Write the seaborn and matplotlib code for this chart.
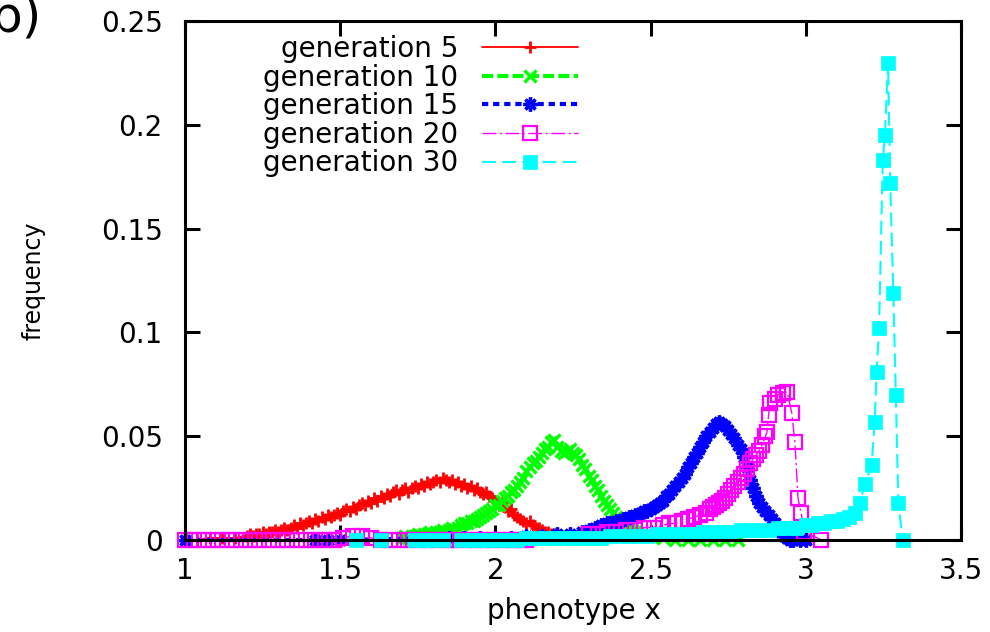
import matplotlib
matplotlib.use("Agg")
import matplotlib.pyplot as plt
import seaborn as sns

# ---------------- data ----------------
series_labels = ["generation 5", "generation 10", "generation 15", "generation 20", "generation 30"]

gen5_x = [1.00, 1.04, 1.08, 1.12, 1.16,
          1.20, 1.21, 1.22, 1.23, 1.24, 1.25, 1.26, 1.27, 1.28, 1.29,
          1.30, 1.31, 1.32, 1.33, 1.34, 1.35, 1.36, 1.37, 1.38, 1.39,
          1.40, 1.41, 1.42, 1.43, 1.44, 1.45, 1.46, 1.47, 1.48, 1.49,
          1.50, 1.51, 1.52, 1.53, 1.54, 1.55, 1.56, 1.57, 1.58, 1.59,
          1.60, 1.61, 1.62, 1.63, 1.64, 1.65, 1.66, 1.67, 1.68, 1.69,
          1.70, 1.71, 1.72, 1.73, 1.74, 1.75, 1.76, 1.77, 1.78, 1.79,
          1.80, 1.81, 1.82, 1.83, 1.84, 1.85, 1.86, 1.87, 1.88, 1.89,
          1.90, 1.91, 1.92, 1.93, 1.94, 1.95, 1.96, 1.97, 1.98, 1.99,
          2.00, 2.01, 2.02, 2.03, 2.04, 2.05, 2.06, 2.07, 2.08, 2.09,
          2.10, 2.11, 2.12, 2.13, 2.14, 2.15, 2.16, 2.17, 2.18, 2.19,
          2.20, 2.21, 2.22, 2.23, 2.24]
gen5_y = [0.000, 0.000, 0.001, 0.001, 0.001,
          0.002, 0.003, 0.002, 0.003, 0.003, 0.004, 0.003, 0.004, 0.004, 0.005,
          0.004, 0.005, 0.006, 0.005, 0.006, 0.007, 0.006, 0.008, 0.007, 0.008,
          0.009, 0.008, 0.010, 0.009, 0.011, 0.010, 0.012, 0.011, 0.012, 0.013,
          0.012, 0.014, 0.015, 0.014, 0.016, 0.015, 0.017, 0.018, 0.017, 0.019,
          0.018, 0.020, 0.019, 0.021, 0.020, 0.022, 0.021, 0.023, 0.024, 0.022,
          0.024, 0.025, 0.023, 0.025, 0.026, 0.025, 0.027, 0.026, 0.028, 0.027,
          0.028, 0.029, 0.028, 0.030, 0.029, 0.028, 0.029, 0.027, 0.028, 0.026,
          0.027, 0.025, 0.026, 0.024, 0.025, 0.023, 0.022, 0.023, 0.021, 0.020,
          0.019, 0.017, 0.018, 0.016, 0.014, 0.015, 0.012, 0.011, 0.010, 0.009,
          0.008, 0.009, 0.007, 0.006, 0.006, 0.005, 0.004, 0.004, 0.003, 0.003,
          0.002, 0.002, 0.001, 0.001, 0.001]

gen10_x = [1.70, 1.71, 1.72, 1.73, 1.74, 1.75, 1.76, 1.77, 1.78, 1.79,
           1.80, 1.81, 1.82, 1.83, 1.84, 1.85, 1.86, 1.87, 1.88, 1.89,
           1.90, 1.91, 1.92, 1.93, 1.94, 1.95, 1.96, 1.97, 1.98, 1.99,
           2.00, 2.01, 2.02, 2.03, 2.04, 2.05, 2.06, 2.07, 2.08, 2.09,
           2.10, 2.11, 2.12, 2.13, 2.14, 2.15, 2.16, 2.17, 2.18, 2.19,
           2.20, 2.21, 2.22, 2.23, 2.24, 2.25, 2.26, 2.27, 2.28, 2.29,
           2.30, 2.31, 2.32, 2.33, 2.34, 2.35, 2.36, 2.37, 2.38, 2.39,
           2.40, 2.41, 2.42, 2.43, 2.44, 2.45, 2.46, 2.50, 2.54, 2.58,
           2.62, 2.66, 2.70, 2.74, 2.78]
gen10_y = [0.001, 0.002, 0.001, 0.002, 0.002, 0.003, 0.002, 0.003, 0.003, 0.004,
           0.003, 0.004, 0.004, 0.005, 0.004, 0.005, 0.006, 0.005, 0.006, 0.007,
           0.008, 0.008, 0.009, 0.009, 0.010, 0.011, 0.012, 0.013, 0.014, 0.015,
           0.017, 0.017, 0.019, 0.020, 0.021, 0.023, 0.024, 0.026, 0.028, 0.030,
           0.033, 0.035, 0.037, 0.038, 0.040, 0.042, 0.044, 0.045, 0.047, 0.048,
           0.045, 0.043, 0.042, 0.043, 0.044, 0.042, 0.041, 0.039, 0.036, 0.034,
           0.031, 0.029, 0.026, 0.024, 0.021, 0.019, 0.017, 0.015, 0.013, 0.011,
           0.010, 0.008, 0.007, 0.006, 0.005, 0.004, 0.003, 0.002, 0.001, 0.000,
           0.000, 0.000, 0.000, 0.000, 0.000]

gen15_x = [1.00, 1.42, 1.46, 1.50, 1.85, 1.90, 1.95, 2.00, 2.05, 2.10, 2.15, 2.20, 2.24, 2.28,
           2.30, 2.31, 2.32, 2.33, 2.34, 2.35, 2.36, 2.37, 2.38, 2.39,
           2.40, 2.41, 2.42, 2.43, 2.44, 2.45, 2.46, 2.47, 2.48, 2.49,
           2.50, 2.51, 2.52, 2.53, 2.54, 2.55, 2.56, 2.57, 2.58, 2.59,
           2.60, 2.61, 2.62, 2.63, 2.64, 2.65, 2.66, 2.67, 2.68, 2.69,
           2.70, 2.71, 2.72, 2.73, 2.74, 2.75, 2.76, 2.77, 2.78, 2.79,
           2.80, 2.81, 2.82, 2.83, 2.84, 2.85, 2.86, 2.87, 2.88, 2.89,
           2.90, 2.91, 2.92, 2.93, 2.94, 2.95, 2.96, 2.98, 3.00]
gen15_y = [0.000, 0.000, 0.000, 0.000, 0.001, 0.001, 0.001, 0.001, 0.001, 0.002, 0.002, 0.003, 0.003, 0.004,
           0.005, 0.005, 0.006, 0.006, 0.007, 0.007, 0.008, 0.008, 0.008, 0.009,
           0.009, 0.010, 0.010, 0.011, 0.011, 0.012, 0.012, 0.013, 0.014, 0.014,
           0.015, 0.016, 0.017, 0.018, 0.019, 0.021, 0.022, 0.024, 0.026, 0.028,
           0.030, 0.032, 0.035, 0.037, 0.040, 0.042, 0.045, 0.047, 0.050, 0.052,
           0.054, 0.056, 0.057, 0.056, 0.055, 0.053, 0.051, 0.049, 0.046, 0.044,
           0.040, 0.035, 0.029, 0.025, 0.021, 0.018, 0.016, 0.014, 0.012, 0.010,
           0.008, 0.006, 0.004, 0.002, 0.001, 0.000, 0.000, 0.000, 0.000]

gen20_x = [1.00, 1.03, 1.06, 1.09, 1.12, 1.15, 1.18, 1.21, 1.24, 1.27, 1.30, 1.33, 1.36, 1.39, 1.42,
           1.45, 1.48, 1.51, 1.54, 1.57, 1.60, 1.63, 1.66, 1.69, 1.72, 1.75, 1.78, 1.81, 1.84, 1.87,
           1.90, 1.93, 1.96, 1.99, 2.02, 2.05, 2.08, 2.10,
           2.30, 2.33, 2.36, 2.39, 2.42, 2.45, 2.48, 2.51, 2.54, 2.56, 2.58, 2.60, 2.62, 2.64, 2.66,
           2.68, 2.69, 2.70, 2.71, 2.72, 2.73, 2.74, 2.75, 2.76, 2.77, 2.78, 2.79, 2.80, 2.81, 2.82,
           2.83, 2.84, 2.85, 2.86, 2.87, 2.875, 2.88, 2.885, 2.90, 2.91, 2.925, 2.94, 2.955, 2.965,
           2.975, 2.985, 2.995, 3.05]
gen20_y = [0.000, 0.000, 0.000, 0.000, 0.000, 0.000, 0.000, 0.000, 0.000, 0.000, 0.000, 0.000, 0.000, 0.000, 0.000,
           0.000, 0.000, 0.001, 0.002, 0.002, 0.001, 0.000, 0.000, 0.000, 0.000, 0.000, 0.000, 0.000, 0.000, 0.000,
           0.000, 0.000, 0.000, 0.000, 0.000, 0.000, 0.000, 0.000,
           0.003, 0.003, 0.004, 0.004, 0.005, 0.005, 0.006, 0.006, 0.007, 0.008, 0.008, 0.009, 0.010, 0.011, 0.012,
           0.013, 0.015, 0.016, 0.017, 0.018, 0.019, 0.020, 0.022, 0.024, 0.026, 0.028, 0.030, 0.032, 0.034, 0.037,
           0.039, 0.041, 0.043, 0.046, 0.050, 0.052, 0.060, 0.066, 0.068, 0.070, 0.071, 0.0713, 0.061, 0.047,
           0.020, 0.013, 0.004, 0.000]

gen30_x = [1.55, 1.63, 1.74, 1.77, 1.80, 1.83, 1.89, 1.92, 1.95, 1.98, 2.01, 2.04, 2.07, 2.10, 2.13,
           2.16, 2.19, 2.22, 2.25, 2.28, 2.31, 2.34, 2.37, 2.40, 2.43, 2.46, 2.49, 2.52, 2.55, 2.58,
           2.61, 2.64, 2.67, 2.70, 2.73, 2.76, 2.79, 2.82, 2.85, 2.88, 2.91, 2.94, 2.97, 3.00, 3.02,
           3.04, 3.06, 3.08, 3.10, 3.12, 3.14, 3.16, 3.175, 3.19, 3.212, 3.222, 3.228, 3.236, 3.248,
           3.255, 3.265, 3.272, 3.282, 3.290, 3.298, 3.312]
gen30_y = [0.000, 0.000, 0.000, 0.000, 0.000, 0.000, 0.000, 0.000, 0.000, 0.000, 0.000, 0.000, 0.000, 0.001, 0.001,
           0.001, 0.001, 0.001, 0.001, 0.001, 0.001, 0.001, 0.002, 0.002, 0.002, 0.002, 0.002, 0.003, 0.003, 0.003,
           0.003, 0.003, 0.004, 0.004, 0.004, 0.004, 0.005, 0.005, 0.005, 0.005, 0.006, 0.006, 0.006, 0.007, 0.007,
           0.008, 0.008, 0.009, 0.009, 0.010, 0.011, 0.013, 0.018, 0.027, 0.036, 0.057, 0.081, 0.102, 0.183,
           0.195, 0.230, 0.172, 0.119, 0.070, 0.018, 0.000]

x_ticks = [1, 1.5, 2, 2.5, 3, 3.5]
x_tick_labels = ["1", "1.5", "2", "2.5", "3", "3.5"]
y_ticks = [0, 0.05, 0.1, 0.15, 0.2, 0.25]
y_tick_labels = ["0", "0.05", "0.1", "0.15", "0.2", "0.25"]

# ---------------- styling ----------------
sns.set_theme(style="white")
plt.rcParams['font.family'] = ['DejaVu Sans']
plt.rcParams['lines.scale_dashes'] = False
plt.rcParams['text.color'] = 'black'
plt.rcParams['axes.labelcolor'] = 'black'
plt.rcParams['xtick.color'] = 'black'
plt.rcParams['ytick.color'] = 'black'

fig = plt.figure(figsize=(9.9, 6.32), dpi=100)
ax = fig.add_axes([185 / 990, 1 - 540 / 632, (961 - 185) / 990, (540 - 21) / 632])

styles = [
    dict(color="#ff0000", marker="+", markersize=9, markeredgewidth=2.0, markeredgecolor="#ff0000",
         linewidth=1.3, linestyle="-"),
    dict(color="#00ff00", marker="x", markersize=8, markeredgewidth=2.4, markeredgecolor="#00ff00",
         linewidth=3.0, linestyle=(0, (8, 3))),
    dict(color="#0000ff", marker=(8, 2, 0), markersize=10, markeredgewidth=2.4, markeredgecolor="#0000ff",
         linewidth=3.0, linestyle=(0, (4.5, 3.5))),
    dict(color="#ff00ff", marker="s", markersize=9.5, markeredgewidth=1.6, markeredgecolor="#ff00ff",
         markerfacecolor="none", linewidth=1.0, linestyle=(0, (10, 2.5, 1.5, 2.5))),
    dict(color="#00ffff", marker="s", markersize=9.5, markeredgewidth=0.5, markeredgecolor="#00ffff",
         markerfacecolor="#00ffff", linewidth=1.5, linestyle=(0, (10, 4.5))),
]

all_x = [gen5_x, gen10_x, gen15_x, gen20_x, gen30_x]
all_y = [gen5_y, gen10_y, gen15_y, gen20_y, gen30_y]

handles = []
for xs, ys, lab, st in zip(all_x, all_y, series_labels, styles):
    sns.lineplot(x=xs, y=ys, ax=ax, label=lab, clip_on=False, sort=False, **st)
    handles.append(ax.get_lines()[-1])

ax.set_xlim(1, 3.5)
ax.set_ylim(0, 0.25)
ax.set_xticks(x_ticks)
ax.set_xticklabels(x_tick_labels)
ax.set_yticks(y_ticks)
ax.set_yticklabels(y_tick_labels)

for s in ax.spines.values():
    s.set_linewidth(2.2)
    s.set_color("black")
    s.set_visible(True)

ax.tick_params(axis="both", which="major", direction="in", length=11, width=2.2, color="black",
               bottom=True, top=True, left=True, right=True, labelsize=20, labelcolor="black")
ax.tick_params(axis="x", pad=12)
ax.tick_params(axis="y", pad=16)

ax.set_xlabel("phenotype x", fontsize=20, color="black")
ax.set_ylabel("frequency", fontsize=17, color="black")
ax.xaxis.set_label_coords(0.501, -0.110)
ax.yaxis.set_label_coords(-0.180, 0.5)

leg = ax.legend(handles=handles, labels=series_labels, loc="upper right",
                bbox_to_anchor=(0.5064, 0.973), borderaxespad=0, borderpad=0,
                frameon=False, markerfirst=False, numpoints=1, fontsize=20,
                handlelength=3.45, handletextpad=0.86, labelspacing=0.02)
for t in leg.get_texts():
    t.set_color("black")

fig.text(-0.010, 0.950, "b)", fontsize=36, va="baseline", ha="left", color="black")

fig.savefig("out.png", dpi=100)
